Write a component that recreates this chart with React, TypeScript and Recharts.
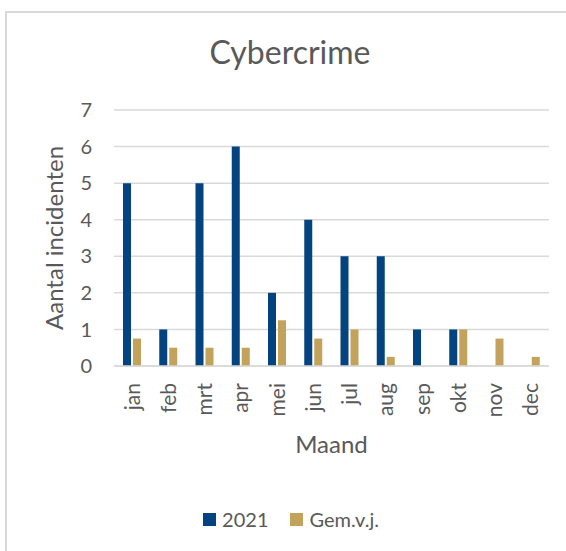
import { BarChart, Bar, XAxis, YAxis, CartesianGrid, Legend, Label } from 'recharts';

const months = ['jan', 'feb', 'mrt', 'apr', 'mei', 'jun', 'jul', 'aug', 'sep', 'okt', 'nov', 'dec'];
const values2021 = [5, 1, 5, 6, 2, 4, 3, 3, 1, 1, 0, 0];
const valuesAvg = [0.75, 0.5, 0.5, 0.5, 1.25, 0.75, 1, 0.25, 0, 1, 0.75, 0.25];
const yTicks = [0, 1, 2, 3, 4, 5, 6, 7];

const FONT = 'Lato, "Open Sans", sans-serif';
const TEXT = '#595959';
const GRID = '#d9d9d9';
const BLUE = '#03437f';
const GOLD = '#c3a35c';

const data = months.map((m, i) => ({ month: m, y2021: values2021[i], avg: valuesAvg[i] }));

function MonthTick({ x, y, payload }: any) {
  return (
    <g transform={`translate(${x},${y})`}>
      <text transform="rotate(-90)" textAnchor="end" dy="0.36em" fill={TEXT} fontSize={21} fontFamily={FONT}>
        {payload.value}
      </text>
    </g>
  );
}

function LegendContent({ payload }: any) {
  return (
    <div style={{ display: 'flex', justifyContent: 'center', gap: 22, fontFamily: FONT, fontSize: 20, color: TEXT }}>
      {(payload || []).map((p: any) => (
        <span key={p.value} style={{ display: 'flex', alignItems: 'center' }}>
          <span style={{ width: 13, height: 13, background: p.color, marginRight: 6, display: 'inline-block' }} />
          {p.value}
        </span>
      ))}
    </div>
  );
}

export default function App() {
  return (
    <div style={{ position: 'fixed', left: 0, top: 0, width: 566, height: 551, overflow: 'hidden', background: '#fff' }}>
      <div
        style={{
          position: 'absolute',
          left: 5,
          top: 11,
          width: 600,
          height: 600,
          borderLeft: `2px solid ${GRID}`,
          borderTop: `2px solid ${GRID}`,
        }}
      />
      <div
        style={{
          position: 'absolute',
          left: 0,
          width: 580,
          top: 32,
          textAlign: 'center',
          fontFamily: FONT,
          fontSize: 32,
          color: TEXT,
        }}
      >
        Cybercrime
      </div>
      <div style={{ position: 'absolute', left: 0, top: 0 }}>
        <BarChart
          width={566}
          height={551}
          data={data}
          margin={{ top: 110, right: 17, bottom: 85, left: 0 }}
          barSize={8}
          barGap={2}
        >
          <CartesianGrid vertical={false} stroke={GRID} strokeWidth={1.5} />
          <XAxis
            dataKey="month"
            tick={<MonthTick />}
            tickLine={false}
            tickSize={0}
            tickMargin={17}
            axisLine={{ stroke: GRID, strokeWidth: 1.5 }}
            height={100}
            interval={0}
          >
            <Label
              content={({ viewBox }: any) => (
                <text
                  x={viewBox.x + viewBox.width / 2}
                  y={viewBox.y + 87}
                  textAnchor="middle"
                  fill={TEXT}
                  fontSize={24}
                  fontFamily={FONT}
                >
                  Maand
                </text>
              )}
            />
          </XAxis>
          <YAxis
            domain={[0, 7]}
            ticks={yTicks}
            tickLine={false}
            tickSize={0}
            tickMargin={22}
            axisLine={false}
            width={114}
            tick={{ fill: TEXT, fontSize: 20, fontFamily: FONT }}
          >
            <Label
              content={({ viewBox }: any) => {
                const cy = viewBox.y + viewBox.height / 2;
                return (
                  <text
                    x={63}
                    y={cy}
                    transform={`rotate(-90, 63, ${cy})`}
                    textAnchor="middle"
                    fill={TEXT}
                    fontSize={24}
                    fontFamily={FONT}
                  >
                    Aantal incidenten
                  </text>
                );
              }}
            />
          </YAxis>
          <Legend
            verticalAlign="middle"
            align="center"
            content={<LegendContent />}
            wrapperStyle={{ top: 507, left: 8, width: 566 }}
          />
          <Bar dataKey="y2021" name="2021" fill={BLUE} isAnimationActive={false} />
          <Bar dataKey="avg" name="Gem.v.j." fill={GOLD} isAnimationActive={false} />
        </BarChart>
      </div>
    </div>
  );
}
